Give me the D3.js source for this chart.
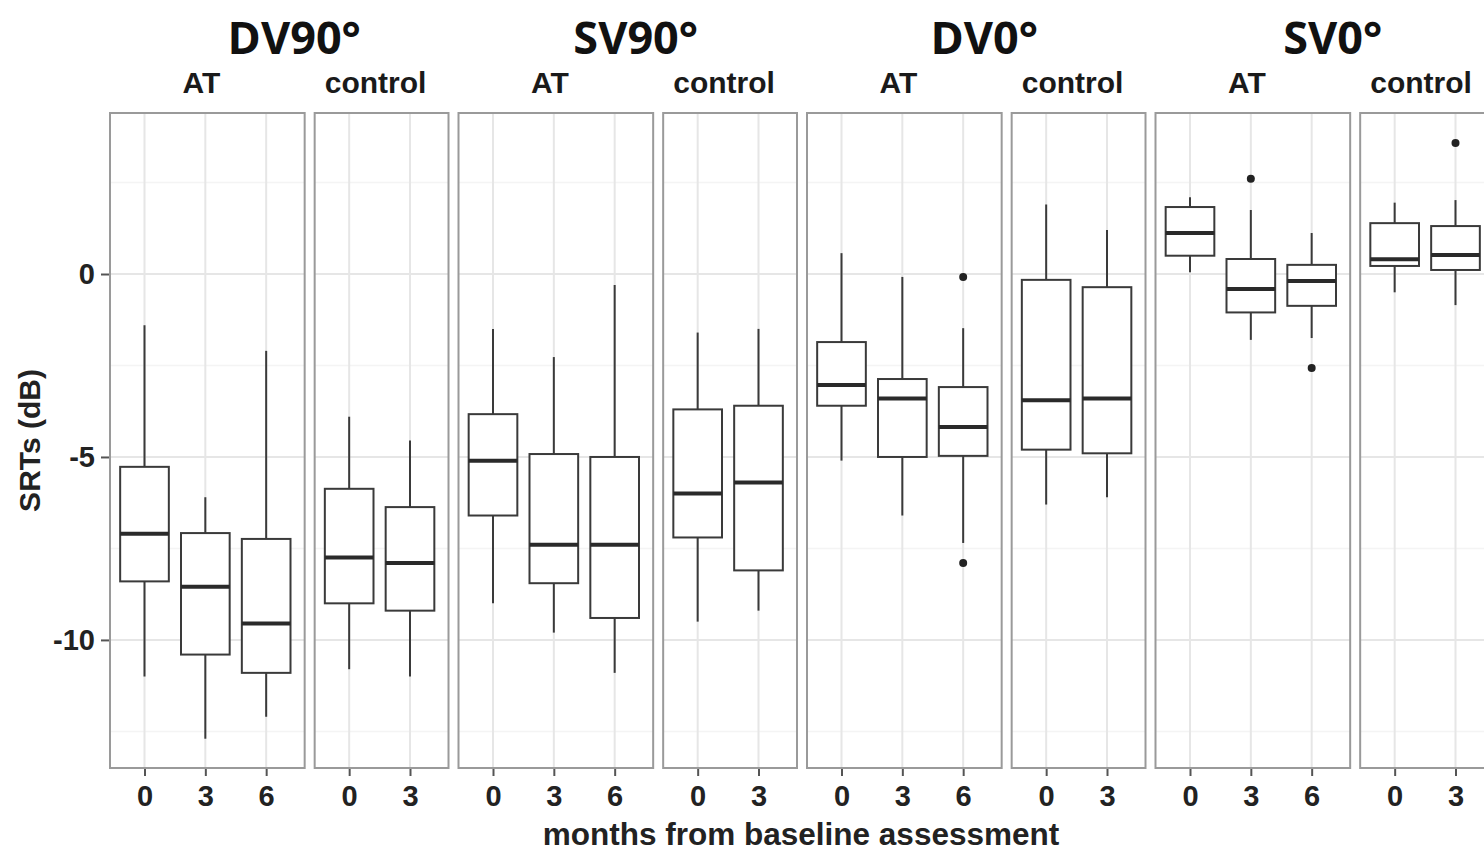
<!DOCTYPE html>
<html>
  <head>
    <meta charset="utf-8">
    <title>SRTs boxplots</title>
    <script src="https://cdn.jsdelivr.net/npm/d3@7"></script>
    <style type="text/css">
      body { margin: 0; background: #fff; }
      .strip { font-family: 'Liberation Sans', Arial, sans-serif; font-weight: bold; font-size: 30px; fill: #1a1a1a; }
      .cond { font-family: 'Open Sans', sans-serif; font-weight: bold; font-size: 45px; fill: #111; }
      .axis text { font-family: 'Liberation Sans', Arial, sans-serif; font-weight: bold; font-size: 29px; fill: #222; }
      .axis path { display: none; }
      .axis line { stroke: #555; stroke-width: 2; }
      .label { font-family: 'Liberation Sans', Arial, sans-serif; font-weight: bold; font-size: 30px; fill: #222; }
    </style>
  </head>
  <body>
    <script>
      // facets
      var conditions = ['DV90°', 'SV90°', 'DV0°', 'SV0°'];
      var arms = ['AT', 'control'];
      var armMonths = { AT: ['0', '3', '6'], control: ['0', '3'] };

      // box stats, in order: condition -> arm -> month
      var whiskerLow  = [-11.0, -12.7, -12.1,  -10.8, -11.0,
                          -9.0,  -9.8, -10.9,   -9.5,  -9.2,
                          -5.1,  -6.6,  -7.35,  -6.3,  -6.1,
                           0.05, -1.8,  -1.75,  -0.5,  -0.85];
      var lowerQ      = [ -8.4, -10.4, -10.9,   -9.0,  -9.2,
                          -6.6,  -8.45, -9.4,   -7.2,  -8.1,
                          -3.6,  -5.0,  -4.97,  -4.8,  -4.9,
                           0.5,  -1.05, -0.87,   0.22,  0.11];
      var medianVal   = [ -7.1,  -8.55, -9.55,  -7.75, -7.9,
                          -5.1,  -7.4,  -7.4,   -6.0,  -5.7,
                          -3.03, -3.4,  -4.18,  -3.45, -3.4,
                           1.12, -0.41, -0.19,   0.4,   0.52];
      var upperQ      = [ -5.27, -7.08, -7.24,  -5.87, -6.37,
                          -3.83, -4.92, -5.0,   -3.7,  -3.6,
                          -1.86, -2.87, -3.09,  -0.16, -0.36,
                           1.83,  0.41,  0.25,   1.39,  1.31];
      var whiskerHigh = [ -1.4,  -6.1,  -2.1,   -3.9,  -4.55,
                          -1.5,  -2.27, -0.3,   -1.6,  -1.5,
                           0.57, -0.08, -1.48,   1.9,   1.2,
                           2.1,   1.75,  1.12,   1.95,  2.02];

      // outliers: [condition, arm, month, value]
      var outliers = [
        ['DV0°', 'AT', '6', -0.08],
        ['DV0°', 'AT', '6', -7.9],
        ['SV0°', 'AT', '3', 2.6],
        ['SV0°', 'AT', '6', -2.57],
        ['SV0°', 'control', '3', 3.58]
      ];

      var yTicks = [-10, -5, 0];
      var yMinor = [-12.5, -7.5, -2.5, 2.5];

      var W = 1484, H = 852;
      var plotLeft = 110, plotRight = 1494, plotTop = 113, plotBottom = 768;
      var gap = 10;

      var svg = d3.select('body')
                  .append('svg')
                    .attr('width', W)
                    .attr('height', H);

      var y = d3.scaleLinear().domain([-13.5, 4.4]).range([plotBottom, plotTop]);

      // free x space: each category takes one unit, plus 0.6 padding each side
      var units = 0;
      conditions.forEach(function() {
        arms.forEach(function(a) { units += armMonths[a].length + 0.2; });
      });
      var nPanels = conditions.length * arms.length;
      var unit = (plotRight - plotLeft - gap * (nPanels - 1)) / units;

      var panels = [];
      var cursor = plotLeft;
      conditions.forEach(function(c) {
        arms.forEach(function(a) {
          var w = (armMonths[a].length + 0.2) * unit;
          panels.push({ cond: c, arm: a, x0: cursor, x1: cursor + w });
          cursor += w + gap;
        });
      });

      var boxW = 0.8 * unit;

      panels.forEach(function(p, pi) {
        var x = d3.scalePoint().domain(armMonths[p.arm]).range([p.x0 - 2, p.x1 - 2]).padding(0.6);
        var g = svg.append('g');

        // grid
        g.selectAll('.minor')
         .data(yMinor)
         .enter().append('line')
           .attr('x1', p.x0).attr('x2', p.x1)
           .attr('y1', function(d) { return y(d) }).attr('y2', function(d) { return y(d) })
           .attr('stroke', '#f4f4f4').attr('stroke-width', 1.5);
        g.selectAll('.major')
         .data(yTicks)
         .enter().append('line')
           .attr('x1', p.x0).attr('x2', p.x1)
           .attr('y1', function(d) { return y(d) }).attr('y2', function(d) { return y(d) })
           .attr('stroke', '#e6e6e6').attr('stroke-width', 2);
        g.selectAll('.vgrid')
         .data(armMonths[p.arm])
         .enter().append('line')
           .attr('x1', function(d) { return x(d) }).attr('x2', function(d) { return x(d) })
           .attr('y1', plotTop).attr('y2', plotBottom)
           .attr('stroke', '#e6e6e6').attr('stroke-width', 2);

        // boxes
        var start = 0;
        for (var j = 0; j < pi; j++) start += armMonths[panels[j].arm].length;
        var stats = armMonths[p.arm].map(function(m, i) {
          var idx = start + i;
          return { m: m, lo: whiskerLow[idx], q1: lowerQ[idx], med: medianVal[idx], q3: upperQ[idx], hi: whiskerHigh[idx] };
        });

        var b = g.selectAll('.box').data(stats).enter().append('g');
        b.append('line')
          .attr('x1', function(d) { return x(d.m) }).attr('x2', function(d) { return x(d.m) })
          .attr('y1', function(d) { return y(d.hi) }).attr('y2', function(d) { return y(d.q3) })
          .attr('stroke', '#3a3a3a').attr('stroke-width', 2);
        b.append('line')
          .attr('x1', function(d) { return x(d.m) }).attr('x2', function(d) { return x(d.m) })
          .attr('y1', function(d) { return y(d.q1) }).attr('y2', function(d) { return y(d.lo) })
          .attr('stroke', '#3a3a3a').attr('stroke-width', 2);
        b.append('rect')
          .attr('x', function(d) { return x(d.m) - boxW / 2 })
          .attr('y', function(d) { return y(d.q3) })
          .attr('width', boxW)
          .attr('height', function(d) { return y(d.q1) - y(d.q3) })
          .attr('fill', '#fff').attr('stroke', '#3a3a3a').attr('stroke-width', 2);
        b.append('line')
          .attr('x1', function(d) { return x(d.m) - boxW / 2 }).attr('x2', function(d) { return x(d.m) + boxW / 2 })
          .attr('y1', function(d) { return y(d.med) }).attr('y2', function(d) { return y(d.med) })
          .attr('stroke', '#2a2a2a').attr('stroke-width', 4);

        g.selectAll('.out')
         .data(outliers.filter(function(o) { return o[0] === p.cond && o[1] === p.arm }))
         .enter().append('circle')
           .attr('cx', function(d) { return x(d[2]) })
           .attr('cy', function(d) { return y(d[3]) })
           .attr('r', 4)
           .attr('fill', '#222');

        // panel border
        g.append('rect')
          .attr('x', p.x0).attr('y', plotTop)
          .attr('width', p.x1 - p.x0).attr('height', plotBottom - plotTop)
          .attr('fill', 'none').attr('stroke', '#9a9a9a').attr('stroke-width', 2);

        // x axis
        svg.append('g')
           .attr('class', 'axis')
           .attr('transform', 'translate(0,' + (plotBottom + 1) + ')')
           .call(d3.axisBottom(x).tickSize(7).tickPadding(9));

        // arm strip
        svg.append('text')
           .attr('class', 'strip')
           .attr('x', (p.x0 + p.x1) / 2 - 6)
           .attr('y', 93)
           .attr('text-anchor', 'middle')
           .text(p.arm);
      });

      // condition titles
      conditions.forEach(function(c, i) {
        var a = panels[i * 2], z = panels[i * 2 + 1];
        svg.append('text')
           .attr('class', 'cond')
           .attr('x', (a.x0 + z.x1) / 2 + (i === 0 ? 15 : 8))
           .attr('y', 54)
           .attr('text-anchor', 'middle')
           .text(c);
      });

      // y axis
      svg.append('g')
         .attr('class', 'axis')
         .attr('transform', 'translate(' + (plotLeft - 1) + ',0)')
         .call(d3.axisLeft(y).tickValues(yTicks).tickSize(8).tickPadding(6)
                 .tickFormat(function(d) { return String(d) }));

      svg.append('text')
         .attr('class', 'label')
         .attr('transform', 'translate(40,' + ((plotTop + plotBottom) / 2) + ') rotate(-90)')
         .attr('text-anchor', 'middle')
         .text('SRTs (dB)');

      svg.append('text')
         .attr('class', 'label')
         .attr('x', 801)
         .attr('y', 845)
         .attr('text-anchor', 'middle')
         .style('font-size', '31.5px')
         .text('months from baseline assessment');
    </script>
  </body>
</html>
